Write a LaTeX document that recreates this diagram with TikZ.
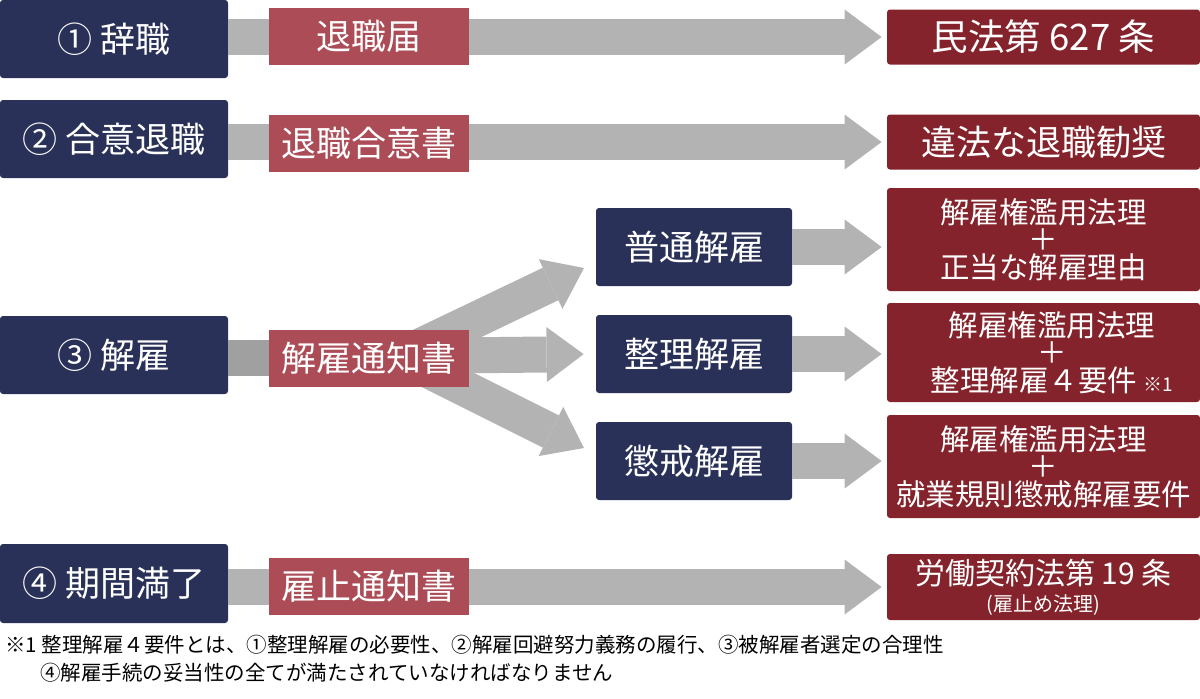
\documentclass[tikz,border=0pt]{standalone}
\usepackage{fontspec}
\setmainfont{Noto Sans CJK JP}
\usetikzlibrary{arrows.meta,calc}
\definecolor{KindClr}{HTML}{2A3158}
\definecolor{DocClr}{HTML}{AC4C57}
\definecolor{LawClr}{HTML}{84232B}
\definecolor{BarClr}{HTML}{B3B3B3}
\definecolor{BarDkClr}{HTML}{A0A0A0}

\tikzset{
  kind/.style={fill=KindClr,rounded corners=1.5pt,text=white,inner sep=0pt,
    minimum width=114pt,minimum height=39pt,font=\fontsize{17.5pt}{21pt}\selectfont},
  doc/.style={fill=DocClr,text=white,inner sep=0pt,
    minimum width=100pt,minimum height=28.5pt,font=\fontsize{17.5pt}{21pt}\selectfont},
  law/.style={fill=LawClr,rounded corners=1.5pt,text=white,inner sep=0pt,
    minimum width=156.5pt,minimum height=27.5pt,font=\fontsize{17.5pt}{21pt}\selectfont},
  lawsmall/.style={text=white,align=center,inner sep=0pt,font=\fontsize{14.75pt}{13.75pt}\selectfont},
  fat/.style={draw=BarClr,line width=18pt,
    -{Triangle[length=18.5pt,width=27.5pt,line width=0pt]}},
  note/.style={anchor=west,inner sep=0pt,text=black,font=\fontsize{10.25pt}{12pt}\selectfont}
}

\begin{document}
\begin{tikzpicture}[x=0.5pt,y=-0.5pt]
\useasboundingbox (0,0) rectangle (1200,698);

% left column
\node[kind] (k1) at (114,39) {① 辞職};
\node[kind] (k2) at (114,139) {② 合意退職};
\node[kind] (k3) at (114,355) {③ 解雇};
\node[kind,minimum height=39.5pt] (k4) at (114,583.5) {④ 期間満了};

% kinds of dismissal
\node[kind,minimum width=98pt] (s1) at (694,247) {普通解雇};
\node[kind,minimum width=98pt] (s2) at (694,354) {整理解雇};
\node[kind,minimum width=98pt] (s3) at (694,461) {懲戒解雇};

% right column
\node[law,font=\fontsize{18.25pt}{21pt}\selectfont] (l1) at (1043.5,37) {民法第 627 条};
\node[law] (l2) at (1043.5,142) {違法な退職勧奨};
\node[law,lawsmall,fill=LawClr,rounded corners=1.5pt,minimum width=156.5pt,minimum height=51.5pt]
  (l3) at (1043.5,239.5) {解雇権濫用法理\\＋\\正当な解雇理由};
\node[law,minimum height=49.5pt] (l4) at (1043.5,352.5) {};
\node[lawsmall,xshift=4.25pt] (l4txt) at (l4)
  {解雇権濫用法理\\＋\\整理解雇４要件 {\fontsize{9.5pt}{10pt}\selectfont ※1}};
\node[law,lawsmall,fill=LawClr,rounded corners=1.5pt,minimum width=156.5pt,minimum height=51.5pt]
  (l5) at (1043.5,466.5) {解雇権濫用法理\\＋\\就業規則懲戒解雇要件};
\node[law,lawsmall,fill=LawClr,rounded corners=1.5pt,minimum width=156.5pt,minimum height=33pt,
  font=\fontsize{15pt}{13.5pt}\selectfont]
  (l6) at (1043.5,587) {労働契約法第 19 条\\{\fontsize{10pt}{10pt}\selectfont (雇止め法理)}};

% arrows
\draw[fat,shorten >=2.5pt] (k1.east |- l1.west) -- (l1.west);
\draw[fat,shorten >=2.5pt] (k2.east |- l2.west) -- (l2.west);
\draw[fat,shorten >=2.5pt] (k4.east |- l6.west) -- (l6.west);

\coordinate (fork) at (400,356);
\coordinate (tipA) at (584,268);
\coordinate (tipC) at (584,448);
\draw[fat] (fork) -- (tipA);
\draw[fat] (fork) -- (tipC);
\draw[fat,shorten >=6pt] (fork) -- (s2.west);

\draw[fat,shorten >=2.5pt] (s1.east) -- (s1.east -| l3.west);
\draw[fat,shorten >=2.5pt] (s2.east) -- (s2.east -| l4.west);
\draw[fat,shorten >=2.5pt] (s3.east) -- (s3.east -| l5.west);

% documents
\node[doc] (d1) at (369,36) {退職届};
\node[doc] (d2) at (369,143.5) {退職合意書};
\node[doc] (d3) at (369,358) {解雇通知書};
\node[doc] (d4) at (369,586.5) {雇止通知書};
\draw[draw=BarDkClr,line width=18pt] (k3.east |- d3.west) -- (d3.west);

% footnote
\node[note] (n1) at (5,645) {※1 整理解雇４要件とは、①整理解雇の必要性、②解雇回避努力義務の履行、③被解雇者選定の合理性};
\node[note] (n2) at (40,673) {④解雇手続の妥当性の全てが満たされていなければなりません};
\end{tikzpicture}
\end{document}
